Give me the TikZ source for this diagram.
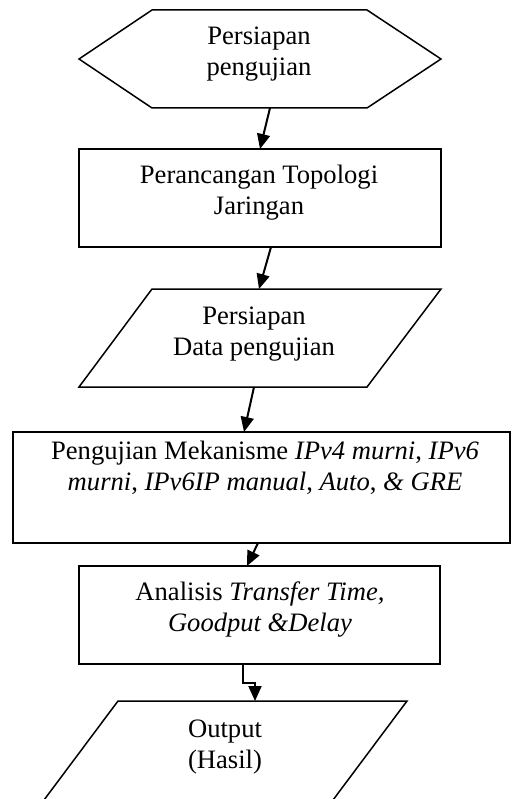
\documentclass[tikz,border=0pt]{standalone}
\usepackage{fontspec}
\setmainfont{Liberation Serif}
\usetikzlibrary{arrows.meta}
\tikzset{
  shapeline/.style={draw=black, line width=1.5pt, line join=miter},
  label/.style={align=center, inner sep=0pt, font=\fontsize{26.6}{31}\selectfont},
  flow/.style={draw=black, line width=2pt, -{Triangle[length=15pt,width=13pt]}}
}
\begin{document}
\begin{tikzpicture}[x=1pt,y=-1pt]
\useasboundingbox (0,0) rectangle (512,799);
% hexagon
\draw[shapeline] (79,59) -- (152,10) -- (367,10) -- (441,59) -- (367,108) -- (152,108) -- cycle;
\node[label] (hex) at (259,54.3) {\strut Persiapan\\\strut pengujian};
% rectangle 2
\draw[shapeline] (79,149) rectangle (441,247);
\node[label] (topo) at (259,192.8) {\strut Perancangan Topologi\\\strut Jaringan};
% parallelogram 1
\draw[shapeline] (152,289) -- (441,289) -- (367,387) -- (79,387) -- cycle;
\node[label] (data) at (254,333.8) {\strut Persiapan\\\strut Data pengujian};
% rectangle 3
\draw[shapeline] (13,432) rectangle (510,543);
\node[label] (uji) at (265,468.8) {\strut Pengujian Mekanisme \textit{IPv4 murni}, \textit{IPv6}\\\strut\textit{murni}, \textit{IPv6IP manual}, \textit{Auto}, \textit{\& GRE}};
% rectangle 4
\draw[shapeline] (79,566) rectangle (440,664);
\node[label] (anal) at (260,609.8) {\strut Analisis \textit{Transfer Time,}\\\strut\textit{Goodput \&Delay}};
% output parallelogram
\draw[shapeline] (44,800) -- (118,701) -- (407,701) -- (333,800);
\node[label] (out) at (225,746.3) {\strut Output\\\strut (Hasil)};
% connector end points
\coordinate (a1) at (270,108);
\coordinate (b1) at (260,149);
\coordinate (a2) at (271,247);
\coordinate (b2) at (259,289);
\coordinate (a3) at (254,387);
\coordinate (b3) at (244,432);
\coordinate (a4) at (258,543);
\coordinate (b4) at (247,566);
\coordinate (a5) at (243,664);
\coordinate (b5) at (255,701);
\draw[flow] (a1) -- (b1);
\draw[flow] (a2) -- (b2);
\draw[flow] (a3) -- (b3);
\draw[flow] (a4) -- (b4);
\draw[flow] (a5) -- (243,683) -- (255,683) -- (b5);
\end{tikzpicture}
\end{document}
